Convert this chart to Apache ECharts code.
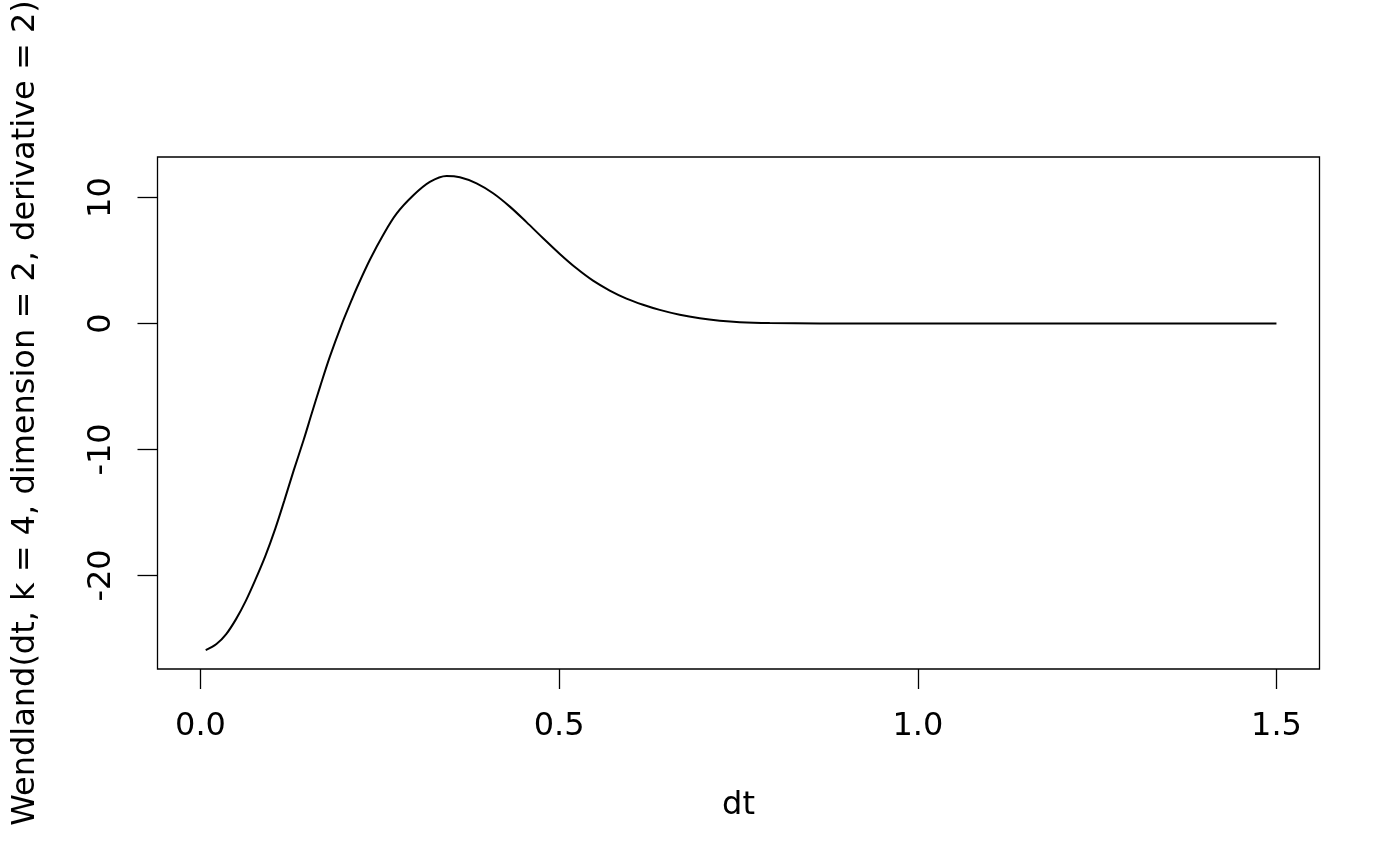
<!DOCTYPE html>
<html>
<head>
<meta charset="utf-8">
<script src="https://cdn.jsdelivr.net/npm/echarts@6/dist/echarts.min.js"></script>
<style>
  html, body { margin: 0; padding: 0; background: #ffffff; }
  #chart { width: 1400px; height: 866px; }
</style>
</head>
<body>
<div id="chart"></div>
<script>
// Values
const dtValues = [0.0072, 0.0222, 0.0358, 0.0495, 0.0631, 0.0768, 0.0904, 0.1041, 0.1169, 0.1299,
  0.1437, 0.1552, 0.1667, 0.1803, 0.1966, 0.2106, 0.2175, 0.2361, 0.2546, 0.2733,
  0.2964, 0.3197, 0.3430, 0.3615, 0.3848, 0.4079, 0.4312, 0.4544, 0.4776, 0.5009,
  0.5241, 0.5472, 0.5705, 0.5938, 0.6169, 0.6402, 0.6681, 0.6960, 0.7239, 0.7518,
  0.7936, 0.8632, 0.9500, 1.1000, 1.3000, 1.5000];
const wendlandValues = [-25.93, -25.45, -24.66, -23.47, -22.02, -20.30, -18.45, -16.30, -14.04, -11.66,
  -9.25, -7.11, -5.01, -2.63, -0.10, 1.85, 2.78, 5.06, 7.03, 8.72,
  10.16, 11.24, 11.71, 11.61, 11.13, 10.34, 9.28, 8.05, 6.77, 5.52,
  4.38, 3.40, 2.62, 1.98, 1.49, 1.08, 0.69, 0.41, 0.22, 0.105,
  0.038, 0.008, 0.00, 0.00, 0.00, 0.00];
const xTicks = [0, 0.5, 1.0, 1.5];
const yTicks = [-20, -10, 0, 10];
const xTitle = 'dt';
const yTitle = 'Wendland(dt, k = 4, dimension = 2, derivative = 2)';

const font = 'DejaVu Sans';
const chart = echarts.init(document.getElementById('chart'), null, { renderer: 'canvas' });
chart.setOption({
  animation: false,
  backgroundColor: '#ffffff',
  grid: {
    left: 157.5, right: 80.5, top: 157, bottom: 197,
    containLabel: false, outerBoundsMode: 'none',
    show: true, borderColor: '#000000', borderWidth: 1.3, backgroundColor: 'transparent'
  },
  xAxis: {
    type: 'value', min: -0.06, max: 1.56,
    splitLine: { show: false },
    axisLine: { show: false, onZero: false },
    axisTick: { show: true, customValues: xTicks, length: 20, inside: false,
      lineStyle: { color: '#000000', width: 1.3 } },
    axisLabel: { show: true, customValues: xTicks, margin: 42, color: '#000000',
      fontFamily: font, fontSize: 32, formatter: v => v.toFixed(1) },
    name: xTitle, nameLocation: 'middle', nameGap: 121,
    nameTextStyle: { color: '#000000', fontFamily: font, fontSize: 32 }
  },
  yAxis: {
    type: 'value', min: -27.43, max: 13.22,
    splitLine: { show: false },
    axisLine: { show: false, onZero: false },
    axisTick: { show: true, customValues: yTicks, length: 20, inside: false,
      lineStyle: { color: '#000000', width: 1.3 } },
    axisLabel: { show: true, customValues: yTicks, margin: 40, rotate: 90, color: '#000000',
      fontFamily: font, fontSize: 32, formatter: v => String(v) },
    name: yTitle, nameLocation: 'middle', nameGap: 116, nameRotate: 90,
    nameTextStyle: { color: '#000000', fontFamily: font, fontSize: 32 }
  },
  series: [{
    type: 'line',
    data: dtValues.map((d, i) => [d, wendlandValues[i]]),
    showSymbol: false,
    smooth: 0.35,
    lineStyle: { color: '#000000', width: 2 },
    clip: true
  }]
});
</script>
</body>
</html>
